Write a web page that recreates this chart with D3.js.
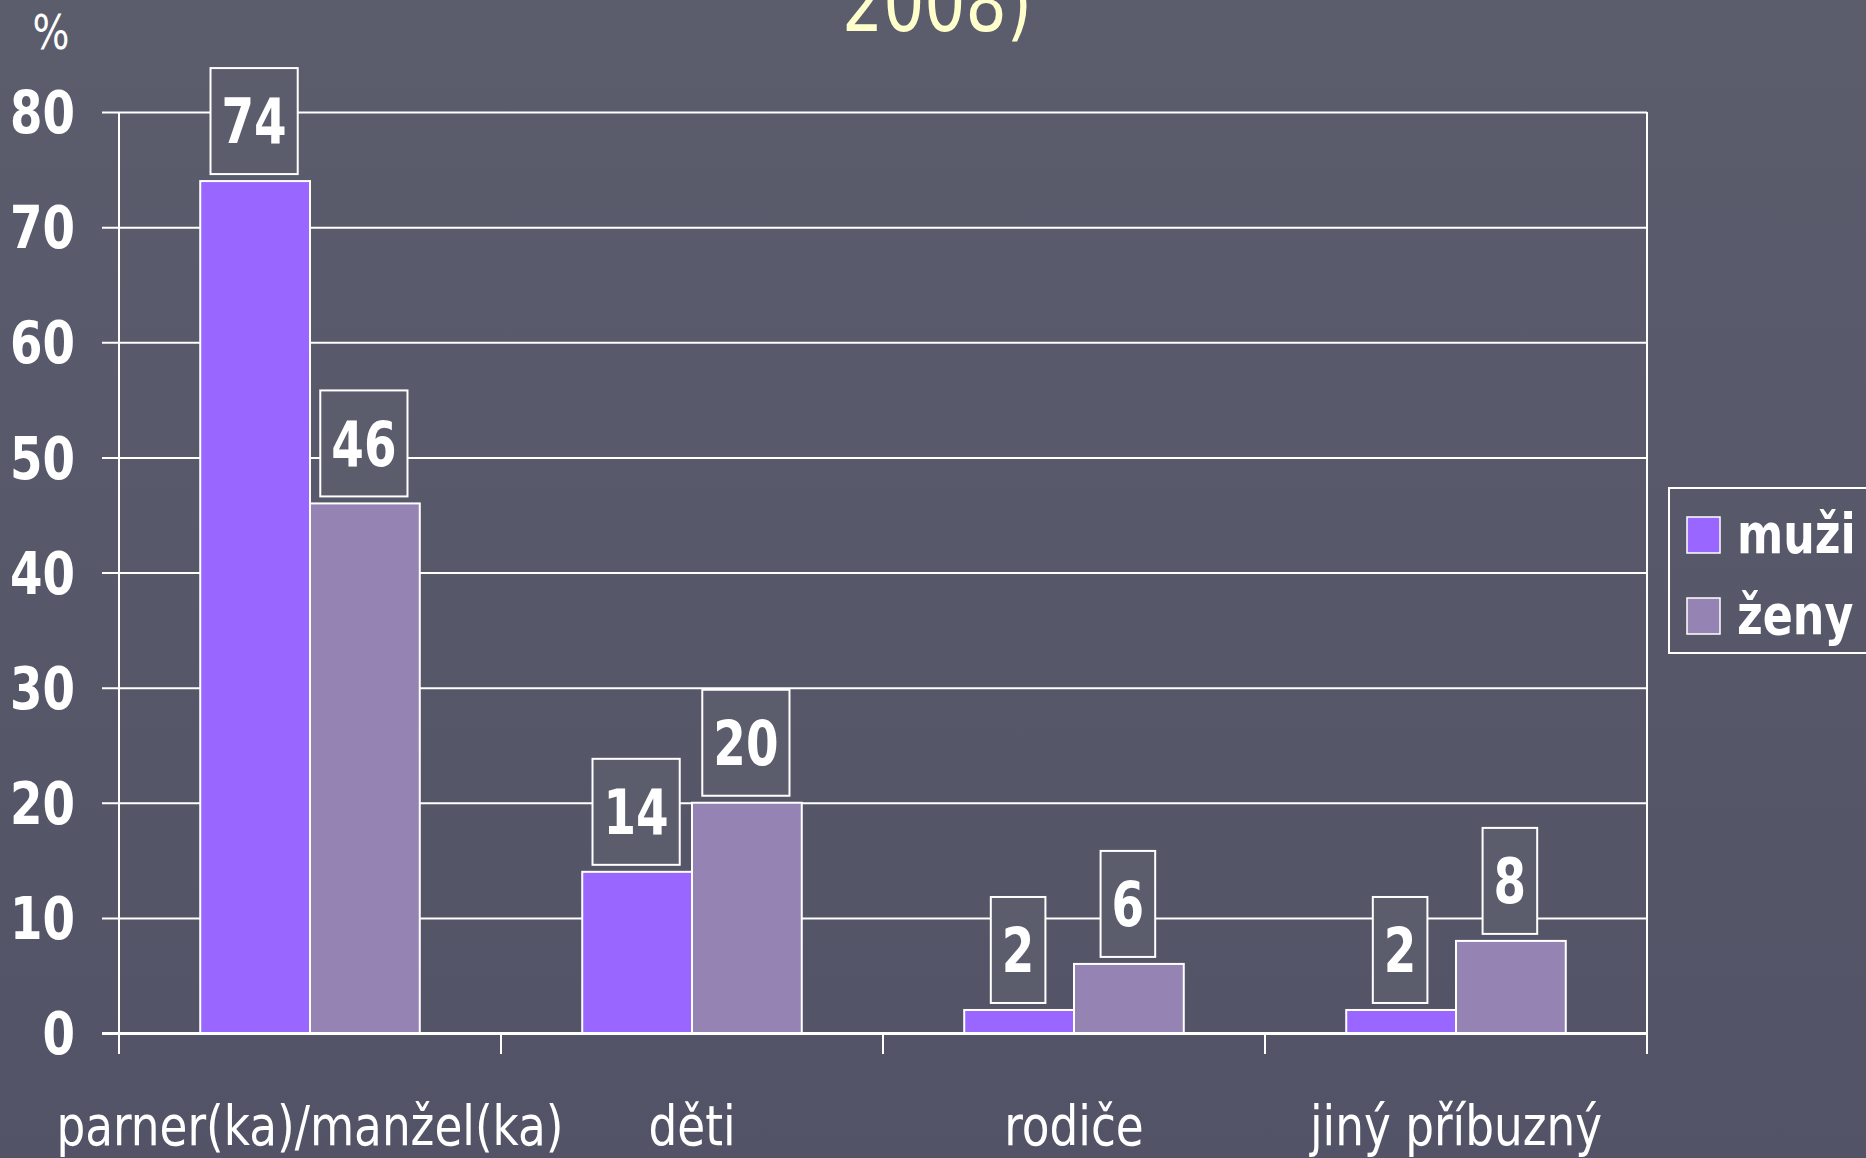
<!DOCTYPE html>
<html>
<head>
<meta charset="utf-8">
<script src="https://cdn.jsdelivr.net/npm/d3@7"></script>
<style>
body { margin:0; padding:0; background:#565768; overflow:hidden; }
svg { display:block; }
</style>
</head>
<body>
<svg id="chart"></svg>
<script>
var categories = ["parner(ka)/manžel(ka)", "děti", "rodiče", "jiný příbuzný"];
var seriesNames = ["muži", "ženy"];
var muzi = [74, 14, 2, 2];
var zeny = [46, 20, 6, 8];
var yTicks = [0, 10, 20, 30, 40, 50, 60, 70, 80];
var colors = ["#9966ff", "#9483b3"];

var W = 1866, H = 1158;
var pLeft = 119, pRight = 1647, pTop = 112, pBottom = 1033;
var fontC = "'DejaVu Sans Condensed', 'DejaVu Sans', sans-serif";

var svg = d3.select("#chart").attr("width", W).attr("height", H);

// background
var grad = svg.append("defs").append("linearGradient")
    .attr("id", "bg").attr("x1", 0).attr("y1", 0).attr("x2", 0).attr("y2", 1);
grad.append("stop").attr("offset", "0%").attr("stop-color", "#5b5c6c");
grad.append("stop").attr("offset", "100%").attr("stop-color", "#525366");
svg.append("rect").attr("width", W).attr("height", H).attr("fill", "url(#bg)");

var y = d3.scaleLinear().domain([0, 80]).range([pBottom, pTop]);
var x0 = d3.scaleBand().domain(categories).range([pLeft, pRight]).padding(0);
var x1 = d3.scaleBand().domain(seriesNames).range([0, x0.bandwidth()])
    .paddingInner(0).paddingOuter(0.74);

// title remnant
svg.append("text")
    .attr("transform", "translate(937,31) scale(0.9,1)")
    .attr("text-anchor", "middle")
    .attr("font-family", fontC)
    .attr("font-size", 80)
    .attr("fill", "#ffffcc")
    .text("2008)");

svg.append("text")
    .attr("transform", "translate(51,49) scale(0.9,1)")
    .attr("text-anchor", "middle")
    .attr("font-family", fontC)
    .attr("font-size", 48)
    .attr("fill", "#ffffff")
    .text("%");

// gridlines + y ticks
var yAxis = d3.axisLeft(y).tickValues(yTicks).tickSize(pRight - 102).tickPadding(0);
var ga = svg.append("g").attr("transform", "translate(" + pRight + ",0)").call(yAxis);
ga.select(".domain").remove();
ga.selectAll(".tick line").attr("stroke", "#ffffff")
    .attr("stroke-width", function(d){ return d == 0 ? 3 : 2; });
ga.selectAll(".tick text").remove();

svg.selectAll("text.ylab")
    .data(yTicks)
    .enter().append("text")
    .attr("class", "ylab")
    .attr("transform", function(d){ return "translate(75," + y(d) + ") scale(0.88,1)"; })
    .attr("text-anchor", "end")
    .attr("dy", "0.36em")
    .attr("font-family", fontC)
    .attr("font-weight", "bold")
    .attr("font-size", 59)
    .attr("fill", "#ffffff")
    .text(function(d){ return d; });

// vertical frame lines and x ticks
var edges = categories.map(function(c){ return x0(c); }).concat([pRight]);
svg.selectAll("line.xtick")
    .data(edges)
    .enter().append("line")
    .attr("class", "xtick")
    .attr("x1", function(d){ return d; })
    .attr("x2", function(d){ return d; })
    .attr("y1", function(d,i){ return (i == 0 || i == edges.length-1) ? pTop : pBottom; })
    .attr("y2", pBottom + 21)
    .attr("stroke", "#ffffff")
    .attr("stroke-width", 2);

// bars
var rows = categories.map(function(c,i){
    return {cat: c, vals: [{s: "muži", v: muzi[i], k: 0}, {s: "ženy", v: zeny[i], k: 1}]};
});

var groups = svg.selectAll("g.cat")
    .data(rows)
    .enter().append("g")
    .attr("class", "cat")
    .attr("transform", function(d){ return "translate(" + x0(d.cat) + ",0)"; });

groups.selectAll("rect.bar")
    .data(function(d){ return d.vals; })
    .enter().append("rect")
    .attr("class", "bar")
    .attr("x", function(d){ return x1(d.s); })
    .attr("y", function(d){ return y(d.v); })
    .attr("width", x1.bandwidth())
    .attr("height", function(d){ return y(0) - y(d.v); })
    .attr("fill", function(d){ return colors[d.k]; })
    .attr("stroke", "#ffffff")
    .attr("stroke-width", 2);

// value label boxes
var lab = groups.selectAll("g.lab")
    .data(function(d){ return d.vals; })
    .enter().append("g")
    .attr("class", "lab")
    .attr("transform", function(d){
        return "translate(" + (x1(d.s) + x1.bandwidth()/2 - 1) + "," + (y(d.v) - 7 - 53) + ")";
    });

lab.append("rect")
    .attr("y", -53)
    .attr("height", 106)
    .attr("fill", "#5b5c6c")
    .attr("stroke", "#ffffff")
    .attr("stroke-width", 2);

lab.append("text")
    .attr("transform", "scale(0.84,1)")
    .attr("text-anchor", "middle")
    .attr("dy", "0.36em")
    .attr("font-family", fontC)
    .attr("font-weight", "bold")
    .attr("font-size", 62)
    .attr("fill", "#ffffff")
    .text(function(d){ return d.v; });

lab.each(function(){
    var g = d3.select(this);
    var w = g.select("text").node().getComputedTextLength() * 0.84 + 22;
    g.select("rect").attr("x", -w/2).attr("width", w);
});

// category labels
svg.selectAll("text.xlab")
    .data(categories)
    .enter().append("text")
    .attr("class", "xlab")
    .attr("transform", function(d){ return "translate(" + (x0(d) + x0.bandwidth()/2) + ",1145) scale(0.9,1)"; })
    .attr("text-anchor", "middle")
    .attr("font-family", fontC)
    .attr("font-size", 56)
    .attr("fill", "#ffffff")
    .text(function(d){ return d; });

// legend
var leg = svg.append("g").attr("transform", "translate(1669,488)");
leg.append("rect")
    .attr("width", 220).attr("height", 165)
    .attr("fill", "none")
    .attr("stroke", "#ffffff")
    .attr("stroke-width", 2);

var items = leg.selectAll("g.item")
    .data(seriesNames)
    .enter().append("g")
    .attr("class", "item")
    .attr("transform", function(d,i){ return "translate(18," + (29 + i*81) + ")"; });

items.append("rect")
    .attr("width", 33).attr("height", 36)
    .attr("fill", function(d,i){ return colors[i]; })
    .attr("stroke", "#ffffff")
    .attr("stroke-width", 1.5);

items.append("text")
    .attr("transform", "translate(50,36) scale(0.88,1)")
    .attr("font-family", fontC)
    .attr("font-weight", "bold")
    .attr("font-size", 56)
    .attr("fill", "#ffffff")
    .text(function(d){ return d; });
</script>
</body>
</html>
